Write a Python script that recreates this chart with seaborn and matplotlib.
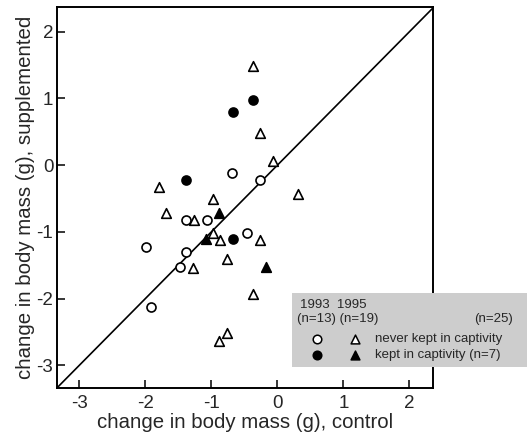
import seaborn as sns
import matplotlib.pyplot as plt
import pandas as pd

# 1993, never kept in captivity (open circles)
x93_wild = [-0.68, -0.27, -1.39, -1.07, -0.46, -1.38, -1.48, -1.99, -1.91]
y93_wild = [-0.12, -0.22, -0.82, -0.82, -1.02, -1.30, -1.52, -1.22, -2.12]
# 1993, kept in captivity (filled circles)
x93_kept = [-1.38, -0.67, -0.37, -0.67]
y93_kept = [-0.22, 0.80, 0.97, -1.11]
# 1995, never kept in captivity (open triangles)
x95_wild = [-0.37, -0.27, -0.07, -1.79, -0.98, 0.32, -1.68, -1.26,
            -0.98, -0.87, -0.27, -0.76, -1.28, -0.37, -0.76, -0.88]
y95_wild = [1.48, 0.48, 0.06, -0.33, -0.51, -0.43, -0.72, -0.82,
            -1.01, -1.12, -1.12, -1.41, -1.54, -1.93, -2.51, -2.64]
# 1995, kept in captivity (filled triangles)
x95_kept = [-0.88, -1.08, -0.17]
y95_kept = [-0.71, -1.11, -1.53]

ticks = [-3, -2, -1, 0, 1, 2]

df = pd.concat([
    pd.DataFrame({"control": x93_wild, "supplemented": y93_wild, "year": 1993, "kept": False}),
    pd.DataFrame({"control": x93_kept, "supplemented": y93_kept, "year": 1993, "kept": True}),
    pd.DataFrame({"control": x95_wild, "supplemented": y95_wild, "year": 1995, "kept": False}),
    pd.DataFrame({"control": x95_kept, "supplemented": y95_kept, "year": 1995, "kept": True}),
], ignore_index=True)

sns.set_style("ticks")
plt.rcParams["font.family"] = ["Liberation Sans", "DejaVu Sans"]
plt.rcParams["axes.unicode_minus"] = False

fig = plt.figure(figsize=(5.27, 4.41), dpi=100)
ax = fig.add_axes([0.109, 0.120, 0.713, 0.864])

# 1:1 line
lims = (-3.34, 2.37)
ax.plot(lims, lims, color="black", lw=1.2, zorder=1)

markers = {1993: "o", 1995: "^"}
for (year, kept), grp in df.groupby(["year", "kept"]):
    sns.scatterplot(data=grp, x="control", y="supplemented", ax=ax,
                    marker=markers[year], s=42 if year == 1993 else 48,
                    facecolor="black" if kept else "white",
                    edgecolor="black", linewidth=1.2, zorder=3, legend=False)

ax.set_xlim(-3.33, 2.36)
ax.set_ylim(-3.34, 2.37)
ax.set_xticks(ticks)
ax.set_yticks(ticks)
ax.tick_params(direction="in", length=6, width=1.1, labelsize=13.5, color="black")
ax.tick_params(axis="x", pad=5)
ax.tick_params(axis="y", pad=3)
for sp in ax.spines.values():
    sp.set_linewidth(1.4)
    sp.set_color("black")
ax.set_xlabel("change in body mass (g), control", fontsize=14.7, labelpad=1)
ax.set_ylabel("change in body mass (g), supplemented", fontsize=14.7, labelpad=1)

# legend panel (grey box over the lower right corner)
lg = fig.add_axes([292 / 527, 1 - 367 / 441, 235 / 527, 74 / 441])
lg.set_facecolor("#cdcdcd")
lg.set_xlim(0, 235)
lg.set_ylim(74, 0)
lg.set_xticks([])
lg.set_yticks([])
for sp in lg.spines.values():
    sp.set_visible(False)
fs = 9.5
lg.text(8, 12, "1993  1995", fontsize=fs, va="center", ha="left")
lg.text(5, 26, "(n=13) (n=19)", fontsize=fs, va="center", ha="left")
lg.text(221, 26, "(n=25)", fontsize=fs, va="center", ha="right")
lg.scatter([25], [46], marker="o", s=38, facecolor="white", edgecolor="black", linewidth=1.1)
lg.scatter([63], [46], marker="^", s=40, facecolor="white", edgecolor="black", linewidth=1.1)
lg.text(83, 46, "never kept in captivity", fontsize=fs, va="center", ha="left")
lg.scatter([25], [62], marker="o", s=38, facecolor="black", edgecolor="black", linewidth=1.1)
lg.scatter([63], [62], marker="^", s=40, facecolor="black", edgecolor="black", linewidth=1.1)
lg.text(83, 62, "kept in captivity (n=7)", fontsize=fs, va="center", ha="left")

plt.savefig("out.png", dpi=100)
